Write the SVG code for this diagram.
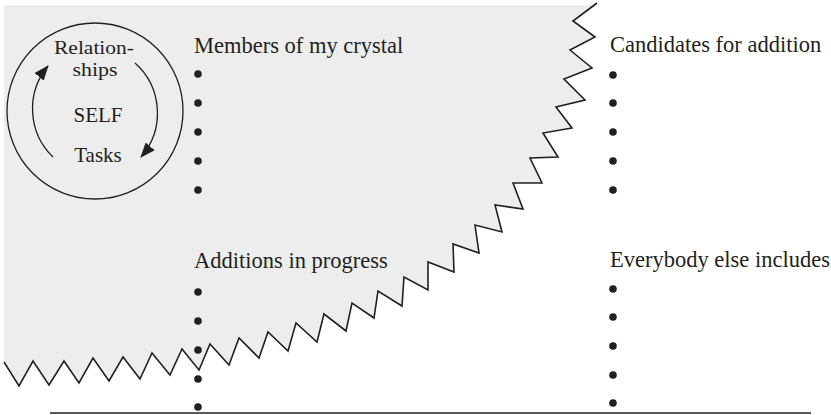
<svg xmlns="http://www.w3.org/2000/svg" width="831" height="415" viewBox="0 0 831 415">
<style>
.t{font-family:"Liberation Serif","Times New Roman",serif;fill:#231f20}
.h{font-size:22.5px}
.c{font-size:21px;text-anchor:middle}
.s{font-size:19px;text-anchor:middle}
.b{fill:#231f20}
.edge{fill:#ededed}
.arc{fill:none;stroke:#231f20;stroke-width:1.3}
</style>
<defs>
<marker id="ah" viewBox="0 0 15 12" refX="14" refY="6" markerWidth="15" markerHeight="12" markerUnits="userSpaceOnUse" orient="auto">
<path d="M0,0 L15,6 L0,12 Z" fill="#231f20"/>
</marker>
</defs>
<g id="crystal-area">
<path class="edge" d="M4,5 L597,5 L573,21 L595,37 L570,50 L592,68 L564,79 L585,100 L556,107 L572,128 L543,133 L558,157 L530,158 L542,183 L513,183 L523,209 L495,205 L502,232 L475,225 L479,253 L453,244 L454,272 L428,262 L428,290 L404,277 L402,306 L378,291 L374,318 L352,303 L346,331 L324,314 L317,342 L296,323 L288,351 L268,332 L259,358 L239,338 L229,365 L210,344 L199,370 L182,349 L170,375 L152,353 L140,379 L123,357 L109,381 L93,358 L79,383 L64,361 L49,385 L33,361 L19,386 L4,362 Z"/>
<polyline fill="none" stroke="#231f20" stroke-width="1.6" points="597,3 573,21 595,37 570,50 592,68 564,79 585,100 556,107 572,128 543,133 558,157 530,158 542,183 513,183 523,209 495,205 502,232 475,225 479,253 453,244 454,272 428,262 428,290 404,277 402,306 378,291 374,318 352,303 346,331 324,314 317,342 296,323 288,351 268,332 259,358 239,338 229,365 210,344 199,370 182,349 170,375 152,353 140,379 123,357 109,381 93,358 79,383 64,361 49,385 33,361 19,386 4,362"/>
</g>
<g id="self">
<circle cx="95" cy="111" r="88" fill="none" stroke="#231f20" stroke-width="1.3"/>
<text class="t s" x="94" y="54" textLength="80" lengthAdjust="spacingAndGlyphs">Relation-</text>
<text class="t s" x="95" y="76" textLength="45" lengthAdjust="spacingAndGlyphs">ships</text>
<text class="t c" x="98" y="122">SELF</text>
<text class="t c" x="98" y="162">Tasks</text>
</g>
<g id="connectors">
<path class="arc" d="M53,157 A67,67 0 0 1 48,66" marker-end="url(#ah)"/>
<path class="arc" d="M135,63 A67,67 0 0 1 141,157" marker-end="url(#ah)"/>
</g>
<g id="members">
<text class="t h" x="194" y="53">Members of my crystal</text>
<circle class="b" cx="198" cy="74" r="3.8"/>
<circle class="b" cx="198" cy="103" r="3.8"/>
<circle class="b" cx="198" cy="132" r="3.8"/>
<circle class="b" cx="198" cy="161" r="3.8"/>
<circle class="b" cx="198" cy="190" r="3.8"/>
</g>
<g id="candidates">
<text class="t h" x="610" y="52">Candidates for addition</text>
<circle class="b" cx="613" cy="75" r="3.8"/>
<circle class="b" cx="613" cy="103" r="3.8"/>
<circle class="b" cx="613" cy="132" r="3.8"/>
<circle class="b" cx="613" cy="161" r="3.8"/>
<circle class="b" cx="613" cy="190" r="3.8"/>
</g>
<g id="additions">
<text class="t h" x="194" y="268">Additions in progress</text>
<circle class="b" cx="198" cy="292" r="3.8"/>
<circle class="b" cx="198" cy="321" r="3.8"/>
<circle class="b" cx="198" cy="350" r="3.8"/>
<circle class="b" cx="198" cy="379" r="3.8"/>
<circle class="b" cx="198" cy="407" r="3.8"/>
</g>
<g id="everybody">
<text class="t h" x="610" y="267">Everybody else includes</text>
<circle class="b" cx="613" cy="289" r="3.8"/>
<circle class="b" cx="613" cy="317" r="3.8"/>
<circle class="b" cx="613" cy="346" r="3.8"/>
<circle class="b" cx="613" cy="375" r="3.8"/>
<circle class="b" cx="613" cy="403" r="3.8"/>
</g>
<line x1="50" y1="413" x2="811" y2="413" stroke="#231f20" stroke-width="1.5"/>
</svg>
